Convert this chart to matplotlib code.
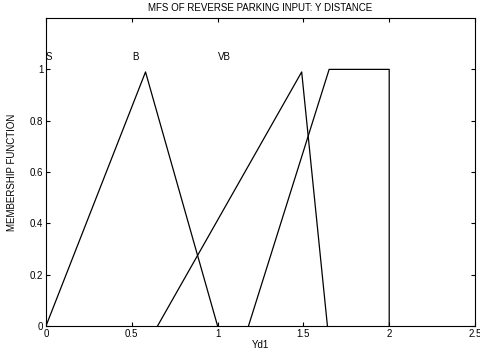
import matplotlib
matplotlib.use("Agg")
import matplotlib.pyplot as plt
import numpy as np

plt.rcParams['font.family'] = ['Liberation Sans', 'DejaVu Sans']

# membership function vertices (x) and values (y)
mf_s_x = [0.0, 0.58, 1.0]
mf_s_y = [0.0, 0.99, 0.0]
mf_b_x = [0.65, 1.49, 1.64]
mf_b_y = [0.0, 0.99, 0.0]
mf_vb_x = [1.18, 1.65, 2.0, 2.0]
mf_vb_y = [0.0, 1.0, 1.0, 0.0]

labels = ['S', 'B', 'VB']
label_x = [0.0, 0.5, 1.0]
label_y = 1.05

xticks = [0, 0.5, 1, 1.5, 2, 2.5]
xticklabels = ['0', '0.5', '1', '1.5', '2', '2.5']
yticks = [0, 0.2, 0.4, 0.6, 0.8, 1]
yticklabels = ['0', '0.2', '0.4', '0.6', '0.8', '1']

fig = plt.figure(figsize=(4.8, 3.54), dpi=100)
ax = fig.add_axes([0.0958, 0.0791, 0.8938, 0.8699])

for xs, ys in [(mf_s_x, mf_s_y), (mf_b_x, mf_b_y), (mf_vb_x, mf_vb_y)]:
    ax.plot(xs, ys, color='black', lw=0.9)

for lab, lx in zip(labels, label_x):
    ax.text(lx, label_y, lab, fontsize=7, ha='left', va='center')

ax.set_xlim(0, 2.5)
ax.set_ylim(0, 1.2)
ax.set_xticks(xticks)
ax.set_xticklabels(xticklabels)
ax.set_yticks(yticks)
ax.set_yticklabels(yticklabels)
ax.tick_params(direction='in', top=True, right=True, labelsize=7, length=3, width=0.8, pad=2)
for sp in ax.spines.values():
    sp.set_linewidth(0.8)

ax.set_title('MFS OF REVERSE PARKING INPUT: Y DISTANCE', fontsize=7, pad=5)
ax.set_xlabel('Yd1', fontsize=7, labelpad=1)
ax.set_ylabel('MEMBERSHIP FUNCTION', fontsize=7, labelpad=9)

fig.savefig('out.png', dpi=100)
